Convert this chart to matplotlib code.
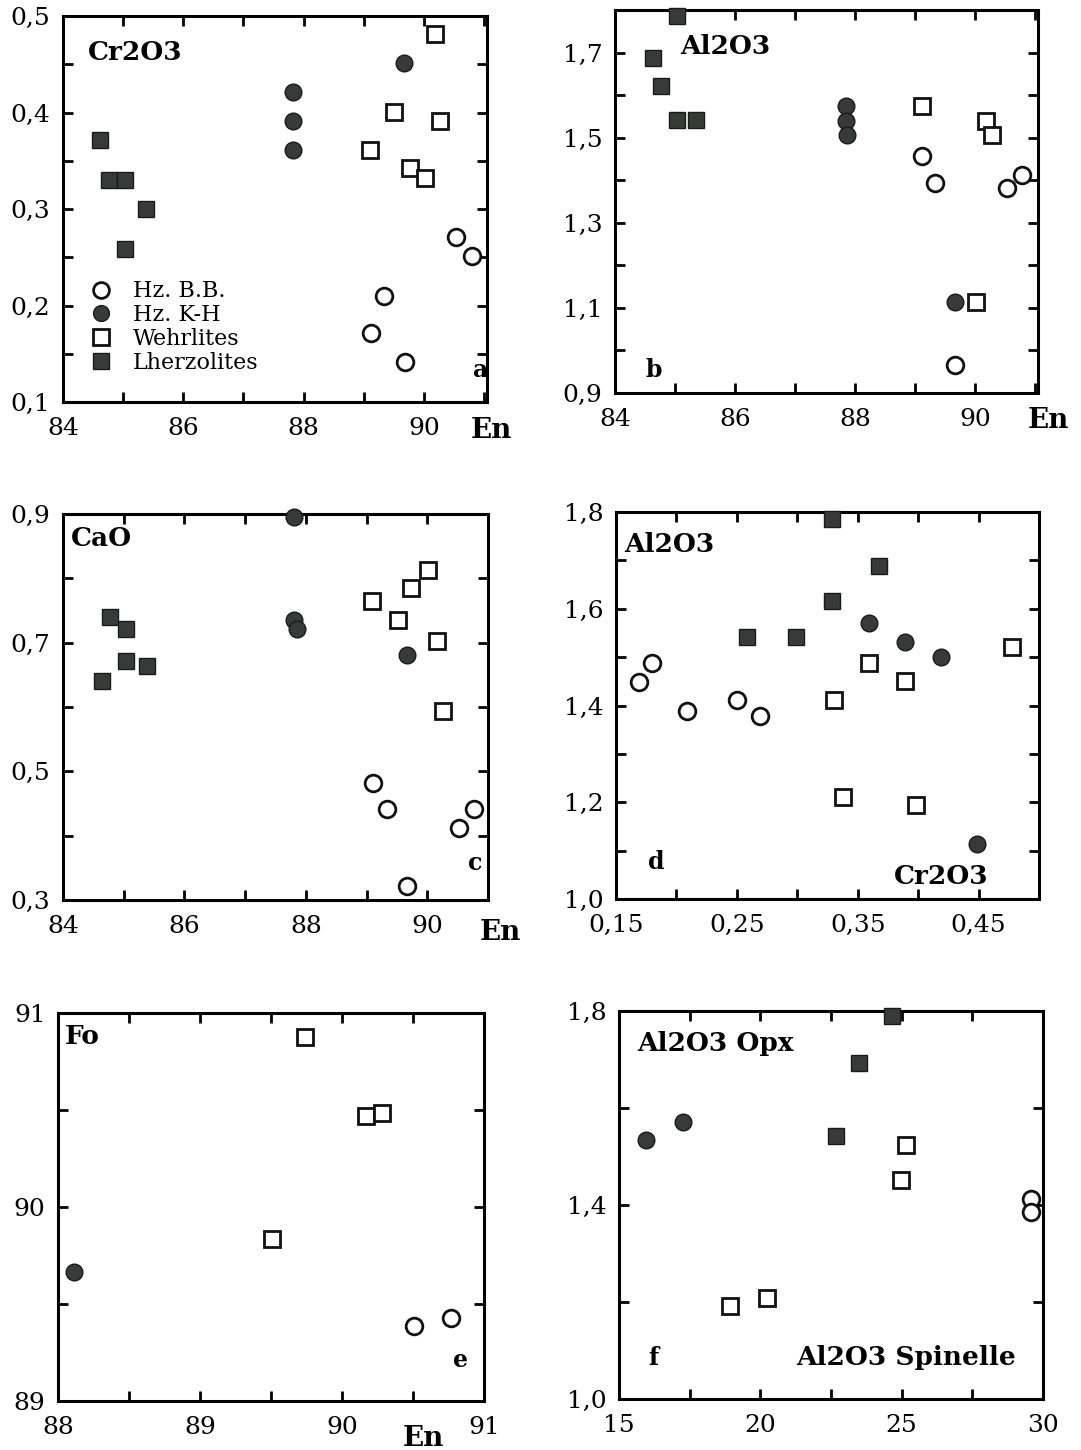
import numpy as np
import matplotlib
matplotlib.use("Agg")
import matplotlib.pyplot as plt

plt.rcParams['font.family'] = ['DejaVu Serif']

# --- a : En vs Cr2O3 ---
bb_en_a = [90.54, 90.80, 89.34, 89.12, 89.69]
bb_cr_a = [0.271, 0.251, 0.210, 0.171, 0.141]
kh_en_a = [87.82, 87.82, 87.82, 89.67]
kh_cr_a = [0.421, 0.391, 0.361, 0.451]
we_en_a = [90.19, 89.51, 90.27, 89.11, 89.77, 90.02]
we_cr_a = [0.481, 0.401, 0.391, 0.361, 0.343, 0.332]
lh_en_a = [84.62, 84.76, 85.03, 85.38, 85.03]
lh_cr_a = [0.371, 0.330, 0.330, 0.300, 0.259]

# --- b : En vs Al2O3 ---
bb_en_b = [89.12, 89.33, 90.53, 90.79, 89.67]
bb_al_b = [1.457, 1.394, 1.381, 1.412, 0.965]
kh_en_b = [87.85, 87.85, 87.87, 89.67]
kh_al_b = [1.575, 1.540, 1.506, 1.114]
we_en_b = [89.12, 90.19, 90.28, 90.02]
we_al_b = [1.575, 1.539, 1.506, 1.114]
lh_en_b = [85.03, 84.63, 84.76, 85.03, 85.35]
lh_al_b = [1.785, 1.687, 1.622, 1.542, 1.542]

# --- c : En vs CaO ---
bb_en_c = [89.11, 89.33, 90.77, 90.53, 89.66]
bb_ca_c = [0.482, 0.442, 0.442, 0.412, 0.322]
kh_en_c = [87.80, 87.80, 87.86, 89.66]
kh_ca_c = [0.895, 0.735, 0.721, 0.681]
we_en_c = [89.09, 89.51, 89.74, 90.01, 90.16, 90.26]
we_ca_c = [0.764, 0.735, 0.785, 0.813, 0.702, 0.594]
lh_en_c = [84.77, 85.04, 85.03, 85.38, 84.64]
lh_ca_c = [0.740, 0.721, 0.671, 0.663, 0.641]

# --- d : Cr2O3 vs Al2O3 ---
bb_cr_d = [0.169, 0.180, 0.209, 0.250, 0.269]
bb_al_d = [1.449, 1.488, 1.389, 1.411, 1.378]
kh_cr_d = [0.359, 0.389, 0.419, 0.449]
kh_al_d = [1.571, 1.532, 1.501, 1.113]
we_cr_d = [0.330, 0.359, 0.389, 0.338, 0.398, 0.478]
we_al_d = [1.411, 1.488, 1.450, 1.210, 1.194, 1.521]
lh_cr_d = [0.329, 0.368, 0.329, 0.258, 0.299]
lh_al_d = [1.785, 1.688, 1.617, 1.542, 1.542]

# --- e : En vs Fo ---
bb_en_e = [90.51, 90.77]
bb_fo_e = [89.387, 89.426]
kh_en_e = [88.11]
kh_fo_e = [89.667]
we_en_e = [89.74, 90.17, 90.28, 89.51]
we_fo_e = [90.878, 90.469, 90.483, 89.833]

# --- f : Al2O3 spinelle vs Al2O3 opx ---
bb_sp_f = [29.58, 29.58]
bb_opx_f = [1.413, 1.386]
kh_sp_f = [15.97, 17.25]
kh_opx_f = [1.533, 1.572]
we_sp_f = [25.14, 24.99, 18.91, 20.25]
we_opx_f = [1.524, 1.452, 1.192, 1.209]
lh_sp_f = [24.67, 23.49, 22.69]
lh_opx_f = [1.790, 1.693, 1.543]

W, H = 1081, 1450
fig = plt.figure(figsize=(W / 100, H / 100), dpi=100)

dark = '#363b38'
ms = 12
mew = 2.0


def add_ax(l, r, t, b):
    # pixel box -> figure fraction
    return fig.add_axes([l / W, 1 - b / H, (r - l) / W, (b - t) / H])


def pts(ax, x, y, kind, label=None):
    if kind == 'bb':
        ax.plot(x, y, 'o', ms=ms, mfc='white', mec='#111111', mew=mew, ls='none', clip_on=False, zorder=5, label=label)
    elif kind == 'kh':
        ax.plot(x, y, 'o', ms=ms, mfc=dark, mec='#1a1a1a', mew=1.0, ls='none', clip_on=False, zorder=5, label=label)
    elif kind == 'we':
        ax.plot(x, y, 's', ms=ms, mfc='white', mec='#111111', mew=mew, ls='none', clip_on=False, zorder=5, label=label)
    else:
        ax.plot(x, y, 's', ms=ms, mfc=dark, mec='#1a1a1a', mew=1.0, ls='none', clip_on=False, zorder=5, label=label)


def style(ax, xlim, ylim, xmaj, xlab, xmin, ymaj, ylab, ymin):
    ax.set_xlim(xlim)
    ax.set_ylim(ylim)
    ax.set_xticks(xmaj, xlab)
    ax.set_xticks(xmin, minor=True)
    ax.set_yticks(ymaj, ylab)
    ax.set_yticks(ymin, minor=True)
    ax.tick_params(which='both', direction='in', length=7, width=2, top=True, right=True, labelsize=18)
    ax.tick_params(axis='x', which='major', pad=11)
    ax.tick_params(axis='y', which='major', pad=9)
    for s in ax.spines.values():
        s.set_linewidth(2.2)


def ptext(x, y, s, size=19, weight='bold', ha='left'):
    fig.text(x / W, 1 - y / H, s, fontsize=size, fontweight=weight, ha=ha, va='center')


en_maj = [84, 86, 88, 90]
en_lab = ['84', '86', '88', '90']
en_min = [85, 87, 89, 91]

# a
ax = add_ax(63, 487, 16, 402)
pts(ax, bb_en_a, bb_cr_a, 'bb', 'Hz. B.B.')
pts(ax, kh_en_a, kh_cr_a, 'kh', 'Hz. K-H')
pts(ax, we_en_a, we_cr_a, 'we', 'Wehrlites')
pts(ax, lh_en_a, lh_cr_a, 'lh', 'Lherzolites')
style(ax, (84, 91.05), (0.1, 0.5), en_maj, en_lab, en_min,
      [0.1, 0.2, 0.3, 0.4, 0.5], ['0,1', '0,2', '0,3', '0,4', '0,5'],
      [0.15, 0.25, 0.35, 0.45])
ax.legend(loc='upper left', bbox_to_anchor=(0.065, 0.315), frameon=False, fontsize=16,
          handlelength=0.9, handletextpad=1.0, labelspacing=0.08, borderpad=0, borderaxespad=0,
          markerscale=0.95)
ptext(88, 52, 'Cr2O3')
ptext(473, 370, 'a', 17)
ptext(471, 431, 'En', 20)

# b
ax = add_ax(615, 1038, 10, 393)
pts(ax, bb_en_b, bb_al_b, 'bb')
pts(ax, kh_en_b, kh_al_b, 'kh')
pts(ax, we_en_b, we_al_b, 'we')
pts(ax, lh_en_b, lh_al_b, 'lh')
style(ax, (84, 91.05), (0.9, 1.8), en_maj, en_lab, en_min,
      [0.9, 1.1, 1.3, 1.5, 1.7], ['0,9', '1,1', '1,3', '1,5', '1,7'],
      [1.0, 1.2, 1.4, 1.6, 1.8])
ptext(680, 46, 'Al2O3')
ptext(646, 370, 'b', 17)
ptext(1028, 421, 'En', 20)

# c
ax = add_ax(63, 488, 514, 900)
pts(ax, bb_en_c, bb_ca_c, 'bb')
pts(ax, kh_en_c, kh_ca_c, 'kh')
pts(ax, we_en_c, we_ca_c, 'we')
pts(ax, lh_en_c, lh_ca_c, 'lh')
style(ax, (84, 91.0), (0.3, 0.9), en_maj, en_lab, en_min,
      [0.3, 0.5, 0.7, 0.9], ['0,3', '0,5', '0,7', '0,9'],
      [0.4, 0.6, 0.8])
ptext(71, 538, 'CaO')
ptext(468, 863, 'c', 17)
ptext(480, 933, 'En', 20)

# d
ax = add_ax(616, 1039, 512, 899)
pts(ax, bb_cr_d, bb_al_d, 'bb')
pts(ax, kh_cr_d, kh_al_d, 'kh')
pts(ax, we_cr_d, we_al_d, 'we')
pts(ax, lh_cr_d, lh_al_d, 'lh')
style(ax, (0.15, 0.5), (1.0, 1.8), [0.15, 0.25, 0.35, 0.45], ['0,15', '0,25', '0,35', '0,45'],
      [0.2, 0.3, 0.4],
      [1.0, 1.2, 1.4, 1.6, 1.8], ['1,0', '1,2', '1,4', '1,6', '1,8'],
      [1.1, 1.3, 1.5, 1.7])
ptext(624, 545, 'Al2O3')
ptext(648, 862, 'd', 17)
ptext(894, 877, 'Cr2O3')

# e
ax = add_ax(58, 484, 1013, 1401)
pts(ax, bb_en_e, bb_fo_e, 'bb')
pts(ax, kh_en_e, kh_fo_e, 'kh')
pts(ax, we_en_e, we_fo_e, 'we')
style(ax, (88, 91), (89, 91), [88, 89, 90, 91], ['88', '89', '90', '91'],
      [88.5, 89.5, 90.5],
      [89, 90, 91], ['89', '90', '91'], [89.5, 90.5])
ptext(65, 1037, 'Fo')
ptext(453, 1360, 'e', 17)
ptext(403, 1438, 'En', 20)

# f
ax = add_ax(619, 1043, 1011, 1399)
pts(ax, bb_sp_f, bb_opx_f, 'bb')
pts(ax, kh_sp_f, kh_opx_f, 'kh')
pts(ax, we_sp_f, we_opx_f, 'we')
pts(ax, lh_sp_f, lh_opx_f, 'lh')
style(ax, (15, 30), (1.0, 1.8), [15, 20, 25, 30], ['15', '20', '25', '30'],
      [17.5, 22.5, 27.5],
      [1.0, 1.4, 1.8], ['1,0', '1,4', '1,8'], [1.2, 1.6])
ptext(637, 1043, 'Al2O3 Opx')
ptext(648, 1358, 'f', 17)
ptext(796, 1358, 'Al2O3 Spinelle')

plt.savefig('out.png', dpi=100)
